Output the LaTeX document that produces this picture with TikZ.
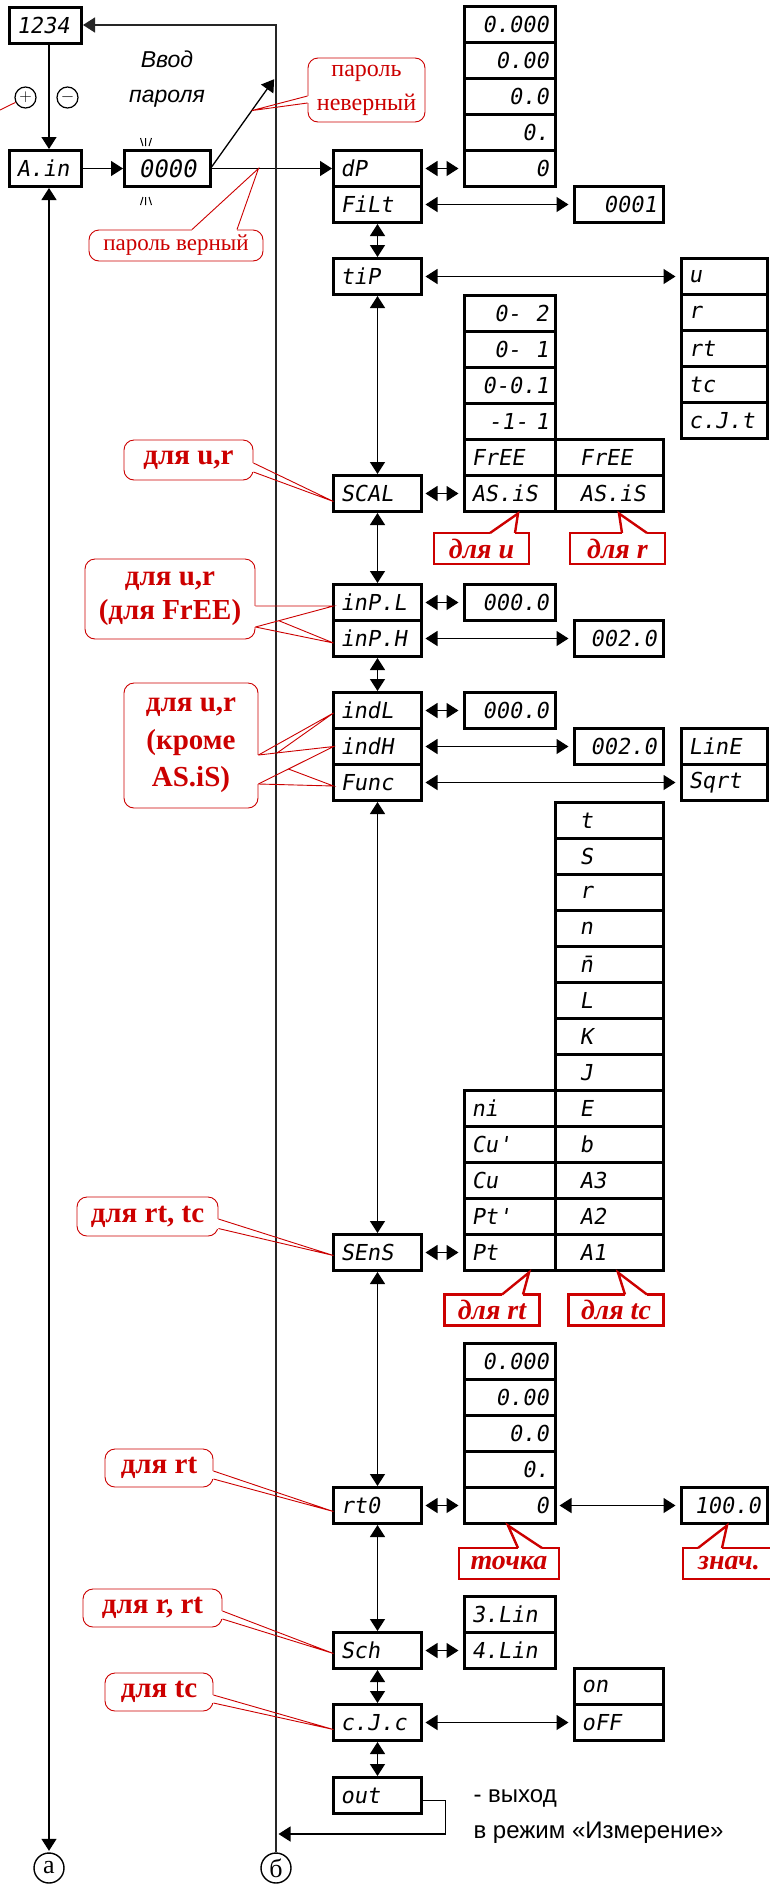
\documentclass[tikz,border=0pt]{standalone}
\usepackage{fontspec}
\setmainfont{Liberation Serif}
\setsansfont{Liberation Sans}
\newfontfamily\segfont{DejaVu Sans Mono}[FakeSlant=0.17]
\usetikzlibrary{
    arrows.meta,
    positioning,
    calc
}
\definecolor{callred}{RGB}{204,0,0}

\begin{document}
\begin{tikzpicture}[
        x=1pt, y=-1pt,
        seg/.style={
            rectangle,
            draw=black,
            line width=3pt,
            outer sep=0pt,
            minimum height=36pt,
            inner xsep=7pt,
            inner ysep=0pt,
            font=\segfont\fontsize{22}{24}\selectfont
        },
        unitbox/.style={seg, text width=58pt, align=left},
        mainbox/.style={seg, text width=74pt, align=left},
        listcell/.style={seg, text width=77pt, align=right},
        listcellL/.style={seg, text width=77pt, align=left},
        widecell/.style={seg, text width=60pt, inner xsep=24pt, align=left},
        valbox/.style={seg, text width=75pt, align=right},
        valboxL/.style={seg, text width=75pt, align=left},
        sidecell/.style={seg, text width=72pt, align=left},
        sidecellR/.style={seg, text width=72pt, align=right},
        arrow/.style={
            -{Triangle[length=12pt,width=15pt]},
            line width=1.3pt,
            shorten >=1.5pt
        },
        dbl/.style={
            {Triangle[length=12pt,width=15pt]}-{Triangle[length=12pt,width=15pt]},
            line width=1.3pt,
            shorten <=1.5pt,
            shorten >=1.5pt
        },
        side/.style={dbl, shorten <=4pt, shorten >=6pt},
        backline/.style={line width=1.4pt, draw=black!85},
        blink/.style={line width=1pt},
        sign/.style={circle, draw, line width=1.2pt, minimum size=21pt,
            inner sep=0pt, font=\fontsize{18}{18}\selectfont},
        endcirc/.style={circle, draw, line width=1.4pt, minimum size=30pt,
            inner sep=0pt, font=\fontsize{26}{26}\selectfont},
        hint/.style={align=center, font=\sffamily\itshape\fontsize{23}{35}\selectfont},
        exitnote/.style={align=left, font=\sffamily\fontsize{24}{36}\selectfont},
        bubble/.style={
            rectangle,
            rounded corners=10pt,
            draw=callred,
            line width=0.9pt,
            fill=white,
            text=callred,
            align=center,
            inner sep=0pt,
            font=\bfseries\fontsize{29}{34}\selectfont
        },
        note/.style={
            rectangle,
            draw=callred,
            line width=2.4pt,
            fill=white,
            text=callred,
            outer sep=0pt,
            inner sep=0pt,
            minimum width=95pt,
            minimum height=31pt,
            font=\bfseries\itshape\fontsize{28}{30}\selectfont
        },
        tail/.style={draw=callred, line width=0.9pt},
        gap/.style={draw=white, line width=2.5pt},
        notetail/.style={draw=callred, line width=2.4pt, line join=miter},
        notegap/.style={draw=white, line width=4pt}
    ]
        \path[use as bounding box, fill=white] (0,0) rectangle (770,1885);

        % Entry and password
        \node[unitbox] (n1234) at (45.5,25) {1234};
        \node[unitbox, below=107.5pt of n1234] (Ain) {A.in};
        \node[seg, text width=72pt, align=center, right=43pt of Ain,
            font=\segfont\fontsize{24}{24}\selectfont] (pass) {0000};
        \node[hint] (enter) at (167,79) {Ввод\\пароля};
        \node[sign] (plus) at (25.5,97.5) {$+$};
        \node[sign] (minus) at (67.5,97.5) {$-$};
        \node[endcirc] (acirc) at (49,1868) {а};
        \node[endcirc] (bcirc) at (276,1868) {б};

        % Parameter column
        \node[mainbox] (dP) at (377.5,168.5) {dP};
        \node[mainbox, below=0pt of dP] (FiLt) {FiLt};
        \node[mainbox, below=36pt of FiLt] (tiP) {tiP};
        \node[mainbox, below=181pt of tiP] (SCAL) {SCAL};
        \node[mainbox, below=73pt of SCAL] (inPL) {inP.L};
        \node[mainbox, below=0pt of inPL] (inPH) {inP.H};
        \node[mainbox, below=36pt of inPH] (indL) {indL};
        \node[mainbox, below=0pt of indL] (indH) {indH};
        \node[mainbox, below=0pt of indH] (Func) {Func};
        \node[mainbox, below=434pt of Func] (SEnS) {SEnS};
        \node[mainbox, below=217pt of SEnS] (rtO) {rt0};
        \node[mainbox, below=109pt of rtO] (Sch) {Sch};
        \node[mainbox, below=36pt of Sch] (cJc) {c.J.c};
        \node[mainbox, below=37pt of cJc] (out) {out};

        % Decimal point
        \node[listcell, right=43pt of dP] (dp0) {0};
        \node[listcell, above=0pt of dp0] (dp1) {0.};
        \node[listcell, above=0pt of dp1] (dp2) {0.0};
        \node[listcell, above=0pt of dp2] (dp3) {0.00};
        \node[listcell, above=0pt of dp3] (dp4) {0.000};
        \node[valbox, right=153pt of FiLt] (filtval) {0001};

        % Input type
        \node[sidecell, right=260pt of tiP] (tu) {u};
        \node[sidecell, below=0pt of tu] (tr) {r};
        \node[sidecell, below=0pt of tr] (trt) {rt};
        \node[sidecell, below=0pt of trt] (ttc) {tc};
        \node[sidecell, below=0pt of ttc] (tcjt) {c.J.t};

        % Scale
        \node[listcellL, right=43pt of SCAL] (asis1) {AS.iS};
        \node[listcellL, above=0pt of asis1] (free1) {FrEE};
        \node[listcell, above=0pt of free1] (rng4) {-1-~1};
        \node[listcell, above=0pt of rng4] (rng3) {0-0.1};
        \node[listcell, above=0pt of rng3] (rng2) {0-~~1};
        \node[listcell, above=0pt of rng2] (rng1) {0-~~2};
        \node[widecell, right=0pt of asis1] (asis2) {AS.iS};
        \node[widecell, above=0pt of asis2] (free2) {FrEE};

        % Limits
        \node[listcell, right=43pt of inPL] (inplval) {000.0};
        \node[valbox, right=153pt of inPH] (inphval) {002.0};
        \node[listcell, right=43pt of indL] (indlval) {000.0};
        \node[valbox, right=153pt of indH] (indhval) {002.0};
        \node[sidecell, right=260pt of Func] (sqrt) {Sqrt};
        \node[sidecell, above=0pt of sqrt] (line) {LinE};

        % Sensors
        \node[listcellL, right=43pt of SEnS] (pt) {Pt};
        \node[listcellL, above=0pt of pt] (pt1) {Pt'};
        \node[listcellL, above=0pt of pt1] (cu) {Cu};
        \node[listcellL, above=0pt of cu] (cu1) {Cu'};
        \node[listcellL, above=0pt of cu1] (ni) {ni};
        \node[widecell, right=0pt of pt] (tcA1) {A1};
        \node[widecell, above=0pt of tcA1] (tcA2) {A2};
        \node[widecell, above=0pt of tcA2] (tcA3) {A3};
        \node[widecell, above=0pt of tcA3] (tcB) {b};
        \node[widecell, above=0pt of tcB] (tcE) {E};
        \node[widecell, above=0pt of tcE] (tcJ) {J};
        \node[widecell, above=0pt of tcJ] (tcK) {K};
        \node[widecell, above=0pt of tcK] (tcL) {L};
        \node[widecell, above=0pt of tcL] (tcM) {n̄};
        \node[widecell, above=0pt of tcM] (tcN) {n};
        \node[widecell, above=0pt of tcN] (tcR) {r};
        \node[widecell, above=0pt of tcR] (tcS) {S};
        \node[widecell, above=0pt of tcS] (tcT) {t};

        % Resistance at 0
        \node[listcell, right=43pt of rtO] (r0) {0};
        \node[listcell, above=0pt of r0] (r1) {0.};
        \node[listcell, above=0pt of r1] (r2) {0.0};
        \node[listcell, above=0pt of r2] (r3) {0.00};
        \node[listcell, above=0pt of r3] (r4) {0.000};
        \node[sidecellR, right=260pt of rtO] (rtval) {100.0};

        % Wiring and cold junction
        \node[listcellL, right=43pt of Sch] (lin4) {4.Lin};
        \node[listcellL, above=0pt of lin4] (lin3) {3.Lin};
        \node[valboxL, right=153pt of cJc] (off) {oFF};
        \node[valboxL, above=0pt of off] (on) {on};
        \node[exitnote, anchor=west] (exittext) at (470,1817)
            {- выход\\в режим «Измерение»};

        % Notes
        \node[bubble, minimum width=117pt, minimum height=64pt,
            font=\fontsize{24}{34}\selectfont] (wrongS) at (366.5,90) {пароль\\неверный};
        \node[bubble, minimum width=174pt, minimum height=31pt,
            font=\fontsize{23}{28}\selectfont] (rightS) at (176,245.5) {пароль верный};
        \node[bubble, minimum width=129pt, minimum height=40pt] (urS) at (188.5,460) {для u,r};
        \node[bubble, minimum width=170pt, minimum height=80pt] (frS) at (170,599)
            {для u,r\\(для FrEE)};
        \node[bubble, minimum width=134pt, minimum height=125pt,
            font=\bfseries\fontsize{29}{37.5}\selectfont] (krS) at (191,745.5)
            {для u,r\\(кроме\\AS.iS)};
        \node[bubble, minimum width=141pt, minimum height=39pt] (rtcS) at (147.5,1216.5) {для rt, tc};
        \node[bubble, minimum width=108pt, minimum height=38pt] (rtS) at (159,1468) {для rt};
        \node[bubble, minimum width=139pt, minimum height=38pt] (rrtS) at (152.5,1608) {для r, rt};
        \node[bubble, minimum width=108pt, minimum height=38pt] (tcS) at (159,1692) {для tc};

        \node[note, below=21.5pt of asis1, xshift=-28.5pt] (forU) {для u};
        \node[note, below=21.5pt of asis2, xshift=8pt] (forR) {для r};
        \node[note, below=24pt of pt, xshift=-18pt] (forRT) {для rt};
        \node[note, below=24pt of tcA1, xshift=6.5pt] (forTC) {для tc};
        \node[note, below=24.5pt of r0, xshift=-1pt, minimum width=100pt] (dotN) {точка};
        \node[note, below=24.5pt of rtval, xshift=4.5pt, minimum width=92pt] (valN) {знач.};

        % Connections
        \coordinate (wrongend) at (275,78);
        \coordinate (exitpt) at (277,1834);
        \coordinate (signfeed) at (0,110);
        \draw[arrow] (n1234.south -| acirc) -- (Ain.north -| acirc);
        \draw[dbl] (acirc) -- (acirc |- Ain.south);
        \draw[arrow] (Ain) -- (pass);
        \draw[arrow] (pass.east) -- (wrongend);
        \draw[arrow] (pass) -- (dP);
        \draw[arrow, backline] (bcirc) |- (n1234);
        \draw[arrow] ([yshift=-5pt]out.east) -- ++(24,0) |- (exitpt);

        \draw[dbl] (FiLt) -- (tiP);
        \draw[dbl] (tiP) -- (SCAL);
        \draw[dbl] (SCAL) -- (inPL);
        \draw[dbl] (inPH) -- (indL);
        \draw[dbl] (Func) -- (SEnS);
        \draw[dbl] (SEnS) -- (rtO);
        \draw[dbl] (rtO) -- (Sch);
        \draw[dbl] (Sch) -- (cJc);
        \draw[dbl] (cJc) -- (out);

        \draw[side] (dP) -- (dp0);
        \draw[side] (FiLt) -- (filtval);
        \draw[side] (tiP) -- (tu);
        \draw[side] (SCAL) -- (asis1);
        \draw[side] (inPL) -- (inplval);
        \draw[side] (inPH) -- (inphval);
        \draw[side] (indL) -- (indlval);
        \draw[side] (indH) -- (indhval);
        \draw[side] (Func) -- (sqrt);
        \draw[side] (SEnS) -- (pt);
        \draw[side] (rtO) -- (r0);
        \draw[side] (r0) -- (rtval);
        \draw[side] (Sch) -- (lin4);
        \draw[side] (cJc) -- (off);

        % Blinking digits
        \draw[blink] ($(pass.north)+(-27,-12.5)$) -- ++(2.5,8)
            ($(pass.north)+(-22,-12.5)$) -- ++(0,8)
            ($(pass.north)+(-16,-12.5)$) -- ++(-2.5,8);
        \draw[blink] ($(pass.south)+(-27,18.5)$) -- ++(2.5,-8)
            ($(pass.south)+(-22,18.5)$) -- ++(0,-8)
            ($(pass.south)+(-16,18.5)$) -- ++(-2.5,-8);

        % Callout tails
        \draw[tail] (signfeed) -- (plus);
        \draw[gap] ($(wrongS.west)+(0,6)$) -- ($(wrongS.west)+(0,13)$);
        \draw[tail] ($(wrongS.west)+(0,6)$) -- ($(pass.east)!0.64!(wrongend)$)
            -- ($(wrongS.west)+(0,13)$);
        \draw[gap] ($(rightS.north)+(16,0)$) -- ($(rightS.north)+(61,0)$);
        \draw[tail] ($(rightS.north)+(16,0)$) -- ($(pass.east)!0.39!(dP.west)$)
            -- ($(rightS.north)+(61,0)$);
        \draw[gap] ($(urS.east)+(0,3)$) -- ($(urS.east)+(0,12)$);
        \draw[tail] ($(urS.east)+(0,3)$) -- ($(SCAL.west)+(0,8)$) -- ($(urS.east)+(0,12)$);

        \coordinate (frA) at ($(frS.east)+(0,7)$);
        \coordinate (frB) at ($(frS.east)+(0,28)$);
        \coordinate (frTip) at ($(inPL.west)+(0,3.5)$);
        \draw[gap] (frA) -- (frB);
        \draw[tail] (frA) -- (frTip) -- (frB);
        \draw[tail] (frB) -- ($(inPH.west)+(0,4.5)$) -- ($(frB)!0.3!(frTip)$);

        \coordinate (krA) at ($(krS.east)+(0,9.5)$);
        \coordinate (krB) at ($(krS.east)+(0,38.5)$);
        \draw[gap] (krA) -- (krB);
        \draw[tail] (krA) -- (indH.west) -- (krB);
        \draw[tail] (krA) -- ($(indL.west)+(0,2.5)$) -- ($(krA)!0.25!(indH.west)$);
        \draw[tail] (krB) -- ($(Func.west)+(0,3.5)$) -- ($(krB)!0.4!(indH.west)$);

        \draw[gap] ($(rtcS.east)+(0,2.5)$) -- ($(rtcS.east)+(0,12)$);
        \draw[tail] ($(rtcS.east)+(0,2.5)$) -- ($(SEnS.west)+(0,3)$) -- ($(rtcS.east)+(0,12)$);
        \draw[gap] ($(rtS.east)+(0,3)$) -- ($(rtS.east)+(0,11)$);
        \draw[tail] ($(rtS.east)+(0,3)$) -- ($(rtO.west)+(0,6)$) -- ($(rtS.east)+(0,11)$);
        \draw[gap] ($(rrtS.east)+(0,3)$) -- ($(rrtS.east)+(0,11)$);
        \draw[tail] ($(rrtS.east)+(0,3)$) -- ($(Sch.west)+(0,3)$) -- ($(rrtS.east)+(0,11)$);
        \draw[gap] ($(tcS.east)+(0,3)$) -- ($(tcS.east)+(0,11)$);
        \draw[tail] ($(tcS.east)+(0,3)$) -- ($(cJc.west)+(0,7)$) -- ($(tcS.east)+(0,11)$);

        \draw[notegap] ($(forU.north)+(8.5,0)$) -- ($(forU.north)+(33.5,0)$);
        \draw[notetail] ($(forU.north)+(8.5,0)$) -- ($(asis1.south)+(8,2)$)
            -- ($(forU.north)+(33.5,0)$);
        \draw[notegap] ($(forR.north)+(4.5,0)$) -- ($(forR.north)+(29.5,0)$);
        \draw[notetail] ($(forR.north)+(4.5,0)$) -- ($(asis2.south)+(9.5,2)$)
            -- ($(forR.north)+(29.5,0)$);
        \draw[notegap] ($(forRT.north)+(10,0)$) -- ($(forRT.north)+(31,0)$);
        \draw[notetail] ($(forRT.north)+(10,0)$) -- ($(pt.south)+(19,2)$)
            -- ($(forRT.north)+(31,0)$);
        \draw[notegap] ($(forTC.north)+(9,0)$) -- ($(forTC.north)+(31,0)$);
        \draw[notetail] ($(forTC.north)+(9,0)$) -- ($(tcA1.south)+(8.5,2)$)
            -- ($(forTC.north)+(31,0)$);
        \draw[notegap] ($(dotN.north)+(9,0)$) -- ($(dotN.north)+(33,0)$);
        \draw[notetail] ($(dotN.north)+(9,0)$) -- ($(r0.south)+(-2,2)$)
            -- ($(dotN.north)+(33,0)$);
        \draw[notegap] ($(valN.north)+(-31,0)$) -- ($(valN.north)+(-7,0)$);
        \draw[notetail] ($(valN.north)+(-31,0)$) -- ($(rtval.south)+(2.5,2)$)
            -- ($(valN.north)+(-7,0)$);
    \end{tikzpicture}
\end{document}
